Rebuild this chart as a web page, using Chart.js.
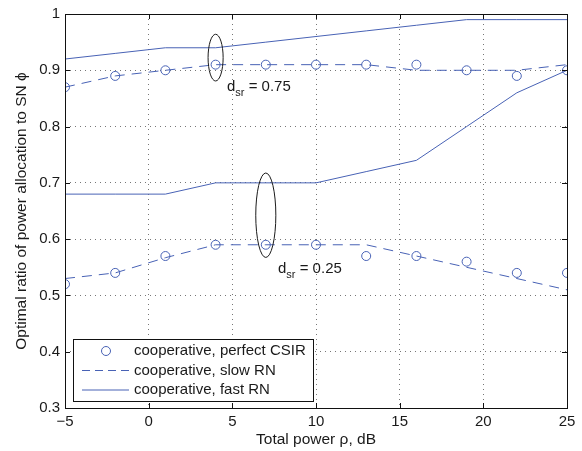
<!DOCTYPE html>
<html>
<head>
<meta charset="utf-8">
<script src="https://cdn.jsdelivr.net/npm/chart.js@4.4.1/dist/chart.umd.min.js"></script>
<style>
  html, body { margin: 0; padding: 0; background: #fff; }
  #wrap { width: 582px; height: 451px; }
</style>
</head>
<body>
<div id="wrap"><canvas id="phiChart" width="582" height="451"></canvas></div>
<script>
'use strict';

// total power, dB
const powerDb = [-5, -2, 1, 4, 7, 10, 13, 16, 19, 22, 25];

// d_sr = 0.75
const perfectHigh = [0.87, 0.89, 0.90, 0.91, 0.91, 0.91, 0.91, 0.91, 0.90, 0.89, 0.90];
const slowHigh    = [0.87, 0.89, 0.90, 0.91, 0.91, 0.91, 0.91, 0.90, 0.90, 0.90, 0.91];
const fastHigh    = [0.92, 0.93, 0.94, 0.94, 0.95, 0.96, 0.97, 0.98, 0.99, 0.99, 0.99];

// d_sr = 0.25
const perfectLow = [0.52, 0.54, 0.57, 0.59, 0.59, 0.59, 0.57, 0.57, 0.56, 0.54, 0.54];
const slowLow    = [0.53, 0.54, 0.567, 0.59, 0.59, 0.59, 0.59, 0.57, 0.55, 0.53, 0.51];
const fastLow    = [0.68, 0.68, 0.68, 0.70, 0.70, 0.70, 0.72, 0.74, 0.80, 0.86, 0.90];

const xTicks = [-5, 0, 5, 10, 15, 20, 25];
const yTicks = [0.3, 0.4, 0.5, 0.6, 0.7, 0.8, 0.9, 1];

const legendLabels = ['cooperative, perfect CSIR', 'cooperative, slow RN', 'cooperative, fast RN'];

const BLUE = '#4862b5';
const FONT = '"Liberation Sans", Arial, Helvetica, sans-serif';

const pts = (ys) => ys.map((y, i) => ({ x: powerDb[i], y: y }));

// ellipses marking each pair of curves + their labels (data coords)
const marks = [
  { cx: 4, cy: 0.9225, rx: 0.45, ry: 0.0415, tx: 4.68, ty: 0.8634, value: '0.75' },
  { cx: 7, cy: 0.6425, rx: 0.6, ry: 0.075, tx: 7.73, ty: 0.5404, value: '0.25' }
];

function circleSet(label, ys) {
  return {
    label: label, data: pts(ys), showLine: false,
    borderColor: BLUE, pointStyle: 'circle', pointRadius: 4.5,
    pointBorderWidth: 1, pointBackgroundColor: 'rgba(0,0,0,0)', pointBorderColor: BLUE
  };
}
function lineSet(label, ys, dash) {
  return {
    label: label, data: pts(ys), showLine: true, fill: false,
    borderColor: BLUE, borderWidth: 1, borderDash: dash, pointRadius: 0, tension: 0
  };
}

const axesDecor = {
  id: 'axesDecor',
  afterDraw(chart) {
    const ctx = chart.ctx;
    const area = chart.chartArea;
    const xs = chart.scales.x, ys = chart.scales.y;

    ctx.save();
    // box
    ctx.strokeStyle = '#111';
    ctx.lineWidth = 1;
    ctx.strokeRect(Math.round(area.left) + 0.5, Math.round(area.top) + 0.5,
      Math.round(area.right - area.left), Math.round(area.bottom - area.top));

    // inward ticks on all four sides
    const tl = 5;
    ctx.beginPath();
    xTicks.forEach(v => {
      const px = Math.round(xs.getPixelForValue(v)) + 0.5;
      ctx.moveTo(px, area.bottom); ctx.lineTo(px, area.bottom - tl);
      ctx.moveTo(px, area.top); ctx.lineTo(px, area.top + tl);
    });
    yTicks.forEach(v => {
      const py = Math.round(ys.getPixelForValue(v)) + 0.5;
      ctx.moveTo(area.left, py); ctx.lineTo(area.left + tl, py);
      ctx.moveTo(area.right, py); ctx.lineTo(area.right - tl, py);
    });
    ctx.stroke();

    // ellipses + d_sr labels
    ctx.strokeStyle = '#1a1a1a';
    ctx.fillStyle = '#1a1a1a';
    marks.forEach(m => {
      const cx = xs.getPixelForValue(m.cx), cy = ys.getPixelForValue(m.cy);
      const rx = xs.getPixelForValue(m.cx + m.rx) - cx;
      const ry = cy - ys.getPixelForValue(m.cy + m.ry);
      ctx.beginPath();
      ctx.ellipse(cx, cy, rx, ry, 0, 0, Math.PI * 2);
      ctx.stroke();

      let tx = xs.getPixelForValue(m.tx);
      const ty = ys.getPixelForValue(m.ty);
      ctx.textAlign = 'left';
      ctx.textBaseline = 'alphabetic';
      ctx.font = '15px ' + FONT;
      ctx.fillText('d', tx, ty);
      tx += ctx.measureText('d').width;
      ctx.font = '11px ' + FONT;
      ctx.fillText('sr', tx, ty + 5);
      tx += ctx.measureText('sr').width;
      ctx.font = '15px ' + FONT;
      ctx.fillText(' = ' + m.value, tx, ty);
    });

    // legend, bottom-left inside the axes
    const lx = area.left + 8, ly = area.bottom - 69, lw = 240, lh = 62;
    ctx.fillStyle = '#fff';
    ctx.fillRect(lx, ly, lw, lh);
    ctx.strokeStyle = '#111';
    ctx.strokeRect(Math.round(lx) + 0.5, Math.round(ly) + 0.5, lw, lh);
    const rows = [ly + 12, ly + 31.5, ly + 51];
    ctx.strokeStyle = BLUE;
    ctx.lineWidth = 1;
    // circle
    ctx.beginPath();
    ctx.arc(lx + 33, rows[0], 4.5, 0, Math.PI * 2);
    ctx.stroke();
    // dashed
    ctx.setLineDash([8, 5]);
    ctx.beginPath();
    ctx.moveTo(lx + 9, rows[1]); ctx.lineTo(lx + 56, rows[1]);
    ctx.stroke();
    ctx.setLineDash([]);
    // solid
    ctx.beginPath();
    ctx.moveTo(lx + 9, rows[2]); ctx.lineTo(lx + 56, rows[2]);
    ctx.stroke();
    ctx.fillStyle = '#1a1a1a';
    ctx.font = '15px ' + FONT;
    ctx.textBaseline = 'middle';
    legendLabels.forEach((t, i) => ctx.fillText(t, lx + 61, rows[i]));

    // axis titles
    ctx.textAlign = 'center';
    ctx.font = '15.5px ' + FONT;
    ctx.fillText('Total power \u03c1, dB', (area.left + area.right) / 2, 440);
    ctx.translate(22, (area.top + area.bottom) / 2);
    ctx.rotate(-Math.PI / 2);
    ctx.fillText('Optimal ratio of power allocation to SN \u03d5', 0, 0);
    ctx.restore();
  }
};

const fmt = (v) => {
  const s = String(Number(Number(v).toFixed(1)));
  return s.replace('-', '\u2212');
};

new Chart(document.getElementById('phiChart'), {
  type: 'scatter',
  data: {
    datasets: [
      circleSet(legendLabels[0], perfectHigh),
      circleSet(legendLabels[0], perfectLow),
      lineSet(legendLabels[1], slowHigh, [10, 7]),
      lineSet(legendLabels[1], slowLow, [10, 7]),
      lineSet(legendLabels[2], fastHigh, []),
      lineSet(legendLabels[2], fastLow, [])
    ]
  },
  options: {
    responsive: false,
    animation: false,
    devicePixelRatio: 1,
    layout: { padding: { top: 12, right: 15, left: 0, bottom: 0 } },
    plugins: { legend: { display: false }, tooltip: { enabled: false } },
    scales: {
      x: {
        type: 'linear', min: -5, max: 25,
        afterFit: (s) => { s.height = 43; },
        afterBuildTicks: (s) => { s.ticks = xTicks.map(v => ({ value: v })); },
        ticks: { callback: fmt, padding: 5, color: '#1a1a1a', font: { family: FONT, size: 15 }, maxRotation: 0 },
        grid: { color: '#777', lineWidth: 1, drawTicks: false },
        border: { display: false, dash: [1, 4] }
      },
      y: {
        type: 'linear', min: 0.3, max: 1,
        afterFit: (s) => { s.width = 65; },
        afterBuildTicks: (s) => { s.ticks = yTicks.map(v => ({ value: v })); },
        ticks: { callback: fmt, padding: 5, color: '#1a1a1a', font: { family: FONT, size: 15 } },
        grid: { color: '#777', lineWidth: 1, drawTicks: false },
        border: { display: false, dash: [1, 4] }
      }
    }
  },
  plugins: [axesDecor]
});
</script>
</body>
</html>
